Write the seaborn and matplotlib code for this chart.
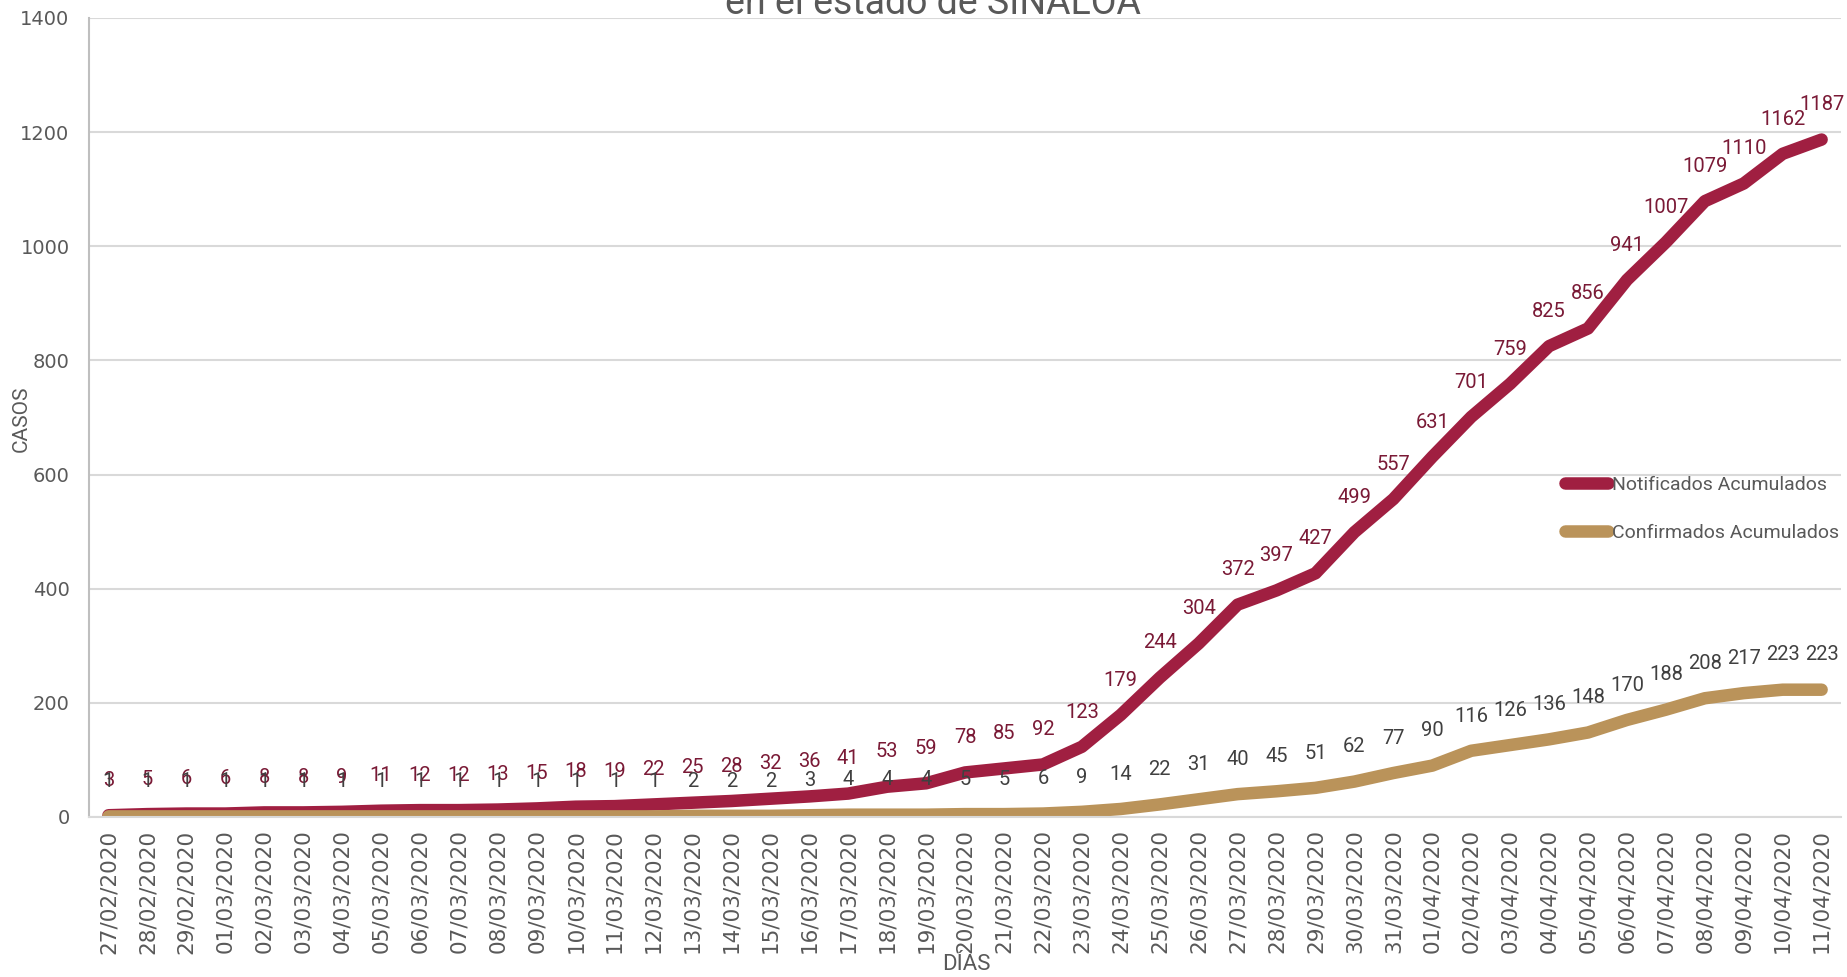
import numpy as np
import pandas as pd
import matplotlib
matplotlib.use('Agg')
import matplotlib.pyplot as plt
from matplotlib.lines import Line2D
import seaborn as sns

fechas = ['27/02/2020', '28/02/2020', '29/02/2020'] + \
         ['%02d/03/2020' % d for d in range(1, 32)] + \
         ['%02d/04/2020' % d for d in range(1, 12)]

notificados = [3, 5, 6, 6, 8, 8, 9, 11, 12, 12, 13, 15, 18, 19, 22, 25, 28, 32, 36, 41,
               53, 59, 78, 85, 92, 123, 179, 244, 304, 372, 397, 427, 499, 557, 631, 701,
               759, 825, 856, 941, 1007, 1079, 1110, 1162, 1187]
confirmados = [1, 1, 1, 1, 1, 1, 1, 1, 1, 1, 1, 1, 1, 1, 1, 2, 2, 2, 3, 4,
               4, 4, 5, 5, 6, 9, 14, 22, 31, 40, 45, 51, 62, 77, 90, 116,
               126, 136, 148, 170, 188, 208, 217, 223, 223]

series = ['Notificados Acumulados', 'Confirmados Acumulados']
colores = {'Notificados Acumulados': '#A01F41', 'Confirmados Acumulados': '#BA935A'}
color_etiqueta = {'Notificados Acumulados': '#7A1A36', 'Confirmados Acumulados': '#404040'}

n = len(fechas)
df = pd.DataFrame({
    'dia': list(range(n)) * 2,
    'casos': notificados + confirmados,
    'serie': [series[0]] * n + [series[1]] * n,
})

sns.set_style('white')
plt.rcParams['font.family'] = ['DejaVu Sans']
narrow = ['Roboto', 'DejaVu Sans']
gris = '#595959'

fig = plt.figure(figsize=(18.47, 9.77), dpi=100)
ax = fig.add_axes([0.0482, 0.1638, 0.9486, 0.8178])

sns.lineplot(data=df, x='dia', y='casos', hue='serie', hue_order=series, palette=colores,
             linewidth=9, solid_capstyle='round', solid_joinstyle='round',
             legend=False, ax=ax)

# etiquetas de datos arriba de cada punto
for serie, valores in [(series[0], notificados), (series[1], confirmados)]:
    for i, v in enumerate(valores):
        ax.annotate(str(v), (i, v), xytext=(0, 25), textcoords='offset points',
                    ha='center', va='center', fontsize=14.5, family=narrow,
                    color=color_etiqueta[serie])

ax.set_xlim(-0.5, n - 0.5)
ax.set_ylim(0, 1400)
ax.set_yticks(range(0, 1401, 200))
ax.set_xticks(range(n))
ax.set_xticklabels(fechas, rotation=90, fontsize=15.5, color=gris)
ax.tick_params(axis='y', labelsize=14, labelcolor=gris, length=0, pad=14)
ax.tick_params(axis='x', length=0, pad=9)
ax.set_xlabel('')
ax.set_ylabel('')

ax.yaxis.grid(True, color='#D9D9D9', linewidth=1.5)
ax.set_axisbelow(True)
for s in ['top', 'right']:
    ax.spines[s].set_visible(False)
ax.spines['left'].set_color('#BFBFBF')
ax.spines['left'].set_linewidth(1.5)
ax.spines['bottom'].set_color('#D9D9D9')
ax.spines['bottom'].set_linewidth(1.5)

handles = [Line2D([], [], color=colores[s], linewidth=9, solid_capstyle='round') for s in series]
fig.legend(handles, series, loc='center left', bbox_to_anchor=(0.8475, 0.479),
           frameon=False, prop={'family': narrow, 'size': 14},
           labelcolor=gris, handlelength=2.2, handletextpad=0.2, labelspacing=1.55,
           borderpad=0, borderaxespad=0)

fig.text(0.505, 0.9857, 'en el estado de SINALOA', ha='center', va='baseline',
         fontsize=27, family=narrow, color=gris)
fig.text(0.0114, 0.571, 'CASOS', rotation=90, ha='center', va='center',
         fontsize=15, family=narrow, color=gris)
fig.text(0.523, 0.013, 'DÍAS', ha='center', va='center',
         fontsize=16, family=narrow, color=gris)

fig.savefig('out.png', dpi=100)
